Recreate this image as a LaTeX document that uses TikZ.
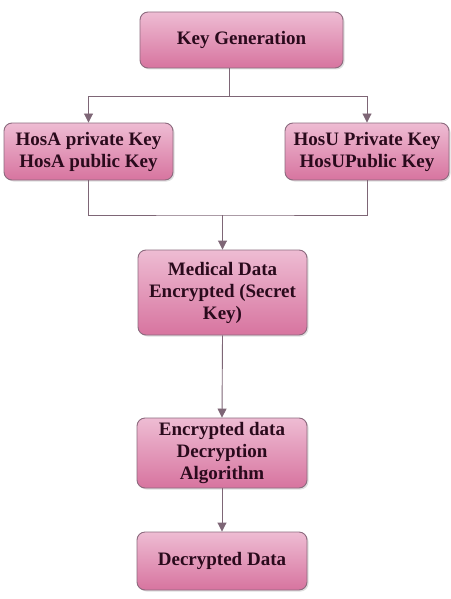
\documentclass[tikz,border=0pt]{standalone}
\usepackage{fontspec}
\setmainfont{Liberation Serif}
\usetikzlibrary{arrows.meta,shadows}
\definecolor{boxtop}{HTML}{EEBCD3}
\definecolor{boxbot}{HTML}{D7749F}
\definecolor{boxline}{HTML}{8C6A7E}
\definecolor{linec}{HTML}{7E6676}
\definecolor{txt}{HTML}{2A0A1C}
\tikzset{
  box/.style={draw=boxline, line width=0.9pt, rounded corners=8pt,
    top color=boxtop, bottom color=boxbot, align=center, inner sep=2pt,
    font=\fontsize{19}{22}\selectfont\bfseries, text=txt,
    drop shadow={shadow xshift=1.5pt, shadow yshift=-1.5pt, opacity=0.25}},
  conn/.style={draw=linec, line width=0.9pt},
  arr/.style={conn, -{Triangle[width=9pt,length=9pt]}}
}
\begin{document}
\begin{tikzpicture}[x=1pt,y=-1pt]
\useasboundingbox (0,0) rectangle (450,599);
\node[box, minimum width=203pt, minimum height=56pt] (kg) at (241.5,40) {Key Generation};
\node[box, minimum width=169pt, minimum height=57pt] (hosa) at (88.5,151.5) {HosA private Key\\HosA public Key};
\node[box, minimum width=164pt, minimum height=57pt] (hosu) at (367,151.5) {HosU Private Key\\HosUPublic Key};
\node[box, minimum width=169pt, minimum height=85pt] (med) at (222.5,292.5) {Medical Data\\Encrypted (Secret\\Key)};
\node[box, minimum width=170pt, minimum height=70pt] (enc) at (222,453) {Encrypted data\\Decryption\\Algorithm};
\node[box, minimum width=170pt, minimum height=58pt] (dec) at (222,561) {Decrypted Data};
\coordinate (split) at (229,96);
\coordinate (merge) at (222.5,215);
\draw[conn] (kg.south -| split) -- (split);
\draw[arr] (split) -| (hosa.north);
\draw[arr] (split) -| (hosu.north);
\draw[conn] (hosa.south) |- (merge) -| (hosu.south);
\draw[arr] (merge) -- (med.north);
\draw[arr] (med.south) -- (enc.north);
\draw[arr] (enc.south) -- (dec.north);
\end{tikzpicture}
\end{document}
